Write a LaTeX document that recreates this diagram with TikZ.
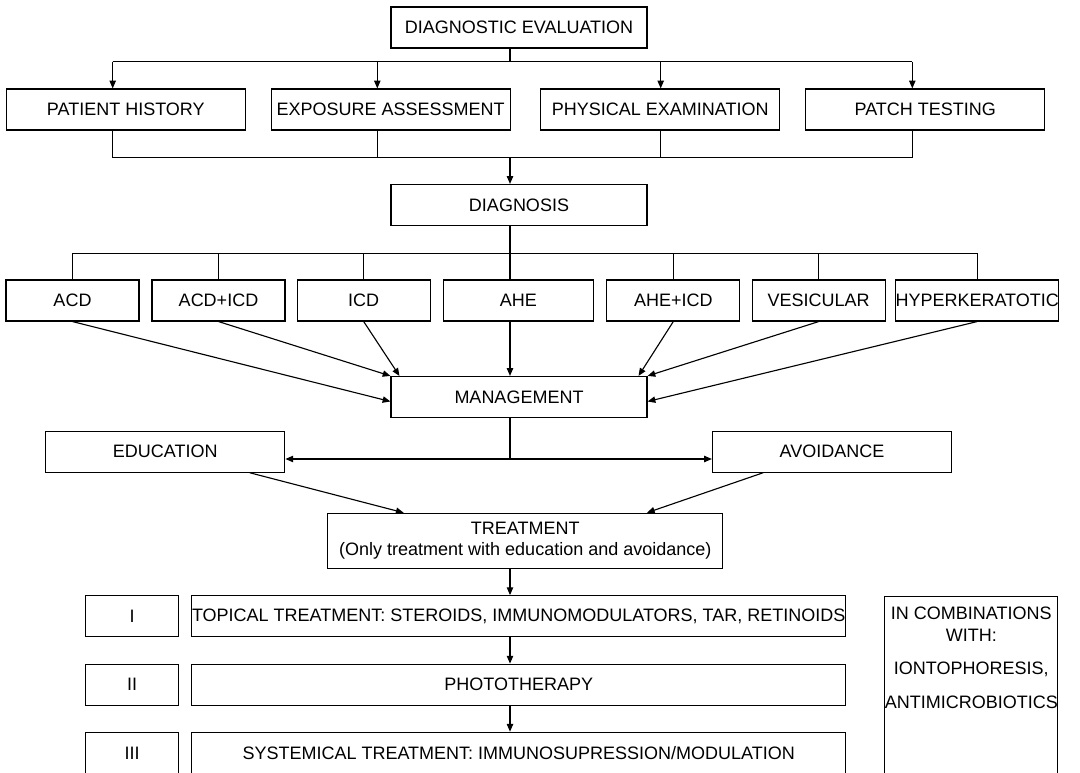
\documentclass[tikz,border=0pt]{standalone}
\usepackage{fontspec}
\setmainfont{Liberation Sans}
\usetikzlibrary{arrows.meta}

\begin{document}
\begin{tikzpicture}[x=0.025cm,y=-0.025cm,line width=0.8pt]
    \tikzstyle{box}=[rectangle,draw,inner sep=0pt,minimum height=1.025cm,align=center,font=\fontsize{12.8pt}{15.4pt}\selectfont]
    \tikzstyle{link}=[-{Triangle[length=5.5pt,width=4.5pt]}]
    \useasboundingbox (0,0) rectangle (1080,773);
    \clip (0,0) rectangle (1080,773);
    % diagnostic part
    \node (eval)  at (519,27.5)    [box,minimum width=6.4cm]   {DIAGNOSTIC EVALUATION};
    \node (hist)  at (125.8,109.5) [box,minimum width=5.975cm] {PATIENT HISTORY};
    \node (expo)  at (390.7,109.5) [box,minimum width=5.975cm] {EXPOSURE ASSESSMENT};
    \node (phys)  at (660.2,109.5) [box,minimum width=5.975cm] {PHYSICAL EXAMINATION};
    \node (patch) at (925.3,109.5) [box,minimum width=5.975cm] {PATCH TESTING};
    \node (diag)  at (519,205)     [box,minimum width=6.4cm]   {DIAGNOSIS};
    \node (acd)    at (72.5,300.5)  [box,minimum width=3.325cm] {ACD};
    \node (acdicd) at (218.5,300.5) [box,minimum width=3.325cm] {ACD+ICD};
    \node (icd)    at (363.7,300.5) [box,minimum width=3.325cm] {ICD};
    \node (ahe)    at (518.3,300.5) [box,minimum width=3.75cm]  {AHE};
    \node (aheicd) at (673.3,300.5) [box,minimum width=3.325cm] {AHE+ICD};
    \node (ves)    at (818.7,300.5) [box,minimum width=3.325cm] {VESICULAR};
    \node (hyper)  at (977.2,300.5) [box,minimum width=4.06cm]  {HYPERKERATOTIC};
    % management part
    \node (mgmt)  at (519,397)     [box,minimum width=6.4cm]   {MANAGEMENT};
    \node (edu)   at (165.3,451.7) [box,minimum width=5.975cm] {EDUCATION};
    \node (avoid) at (832,451.7)   [box,minimum width=5.975cm] {AVOIDANCE};
    \node (treat) at (525.3,540.8) [box,minimum width=9.87cm,minimum height=1.375cm] {TREATMENT\\(Only treatment with education and avoidance)};
    \node (lvl1)    at (132.2,616.2) [box,minimum width=2.325cm] {I};
    \node (topical) at (518.7,616.2) [box,minimum width=16.35cm] {TOPICAL TREATMENT: STEROIDS, IMMUNOMODULATORS, TAR, RETINOIDS};
    \node (lvl2)    at (132.2,684.7) [box,minimum width=2.325cm] {II};
    \node (photo)   at (518.7,684.7) [box,minimum width=16.35cm] {PHOTOTHERAPY};
    \node (lvl3)    at (132.2,753.3) [box,minimum width=2.325cm,minimum height=1.05cm] {III};
    \node (syst)    at (518.7,753.3) [box,minimum width=16.35cm,minimum height=1.05cm] {SYSTEMICAL TREATMENT: IMMUNOSUPRESSION/MODULATION};
    \node (comb) at (971.3,595.7) [box,anchor=north,minimum width=4.32cm,inner ysep=0.275cm,text depth=5cm] {IN COMBINATIONS\\WITH:\\[8.3pt]IONTOPHORESIS,\\[8.3pt]ANTIMICROBIOTICS};
    % branch points
    \coordinate (split) at (510,61.7);
    \coordinate (merge) at (510,157.3);
    \coordinate (fan)   at (510,253.3);
    \coordinate (fork)  at (510,459);
    \coordinate (c1) at (112.7,61.7);
    \coordinate (c2) at (377.3,61.7);
    \coordinate (c3) at (660.7,61.7);
    \coordinate (c4) at (912.3,61.7);
    % evaluation to diagnosis
    \draw (split |- eval.south) -- (split);
    \draw (c1) -- (c4);
    \draw [link] (c1) -- (c1 |- hist.north);
    \draw [link] (c2) -- (c2 |- expo.north);
    \draw [link] (c3) -- (c3 |- phys.north);
    \draw [link] (c4) -- (c4 |- patch.north);
    \draw (c1 |- hist.south) -- (c1 |- merge) -- (c4 |- merge) -- (c4 |- patch.south);
    \draw (c2 |- expo.south) -- (c2 |- merge);
    \draw (c3 |- phys.south) -- (c3 |- merge);
    \draw [link] (merge) -- (merge |- diag.north);
    % diagnosis to the seven forms
    \draw (fan |- diag.south) -- (fan |- ahe.north);
    \draw (acd.north) -- (acd.north |- fan) -- (hyper.north |- fan) -- (hyper.north);
    \draw (acdicd.north) -- (acdicd.north |- fan);
    \draw (icd.north) -- (icd.north |- fan);
    \draw (aheicd.north) -- (aheicd.north |- fan);
    \draw (ves.north) -- (ves.north |- fan);
    % forms to management
    \draw [link] (acd.south) -- (mgmt.182);
    \draw [link] (acdicd.south) -- (mgmt.north west);
    \draw [link] (icd.south) -- (mgmt.170);
    \draw [link] (fan |- ahe.south) -- (fan |- mgmt.north);
    \draw [link] (aheicd.south) -- (mgmt.10);
    \draw [link] (ves.south) -- (mgmt.north east);
    \draw [link] (hyper.south) -- (mgmt.-2);
    % management to treatment
    \draw (fork |- mgmt.south) -- (fork);
    \draw [link] (fork) -- (fork -| edu.east);
    \draw [link] (fork) -- (fork -| avoid.west);
    \draw [link] (edu.-14) -- (treat.167);
    \draw [link] (avoid.197) -- (treat.13);
    \draw [link] (fork |- treat.south) -- (fork |- topical.north);
    \draw [link] (fork |- topical.south) -- (fork |- photo.north);
    \draw [link] (fork |- photo.south) -- (fork |- syst.north);
\end{tikzpicture}
\end{document}
